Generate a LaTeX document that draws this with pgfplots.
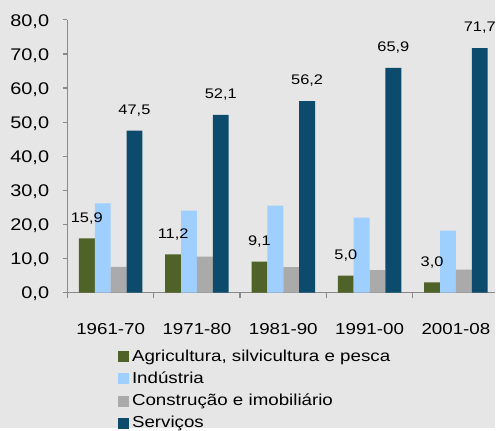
\documentclass[border=0pt]{standalone}
\usepackage{pgfplots}
\pgfplotsset{compat=1.18}
\usepackage{fontspec}
\setmainfont{Liberation Sans}[FakeStretch=1.18]

\definecolor{bgcol}{HTML}{E6E6E6}
\definecolor{axisgray}{HTML}{898989}
\definecolor{agri}{HTML}{4F6228}
\definecolor{indu}{HTML}{9FCFFF}
\definecolor{cons}{HTML}{AAAAAA}
\definecolor{serv}{HTML}{0D4B6C}

\begin{document}
\begin{tikzpicture}[x=1pt,y=1pt]
% background panel, 499 x 431
\fill[bgcol] (-68,-136) rectangle (431,295);
\begin{axis}[
    at={(0,0)}, anchor=south west,
    scale only axis, width=431pt, height=275pt,
    xmin=-0.5, xmax=4.454, ymin=0, ymax=80,
    ybar=0pt, bar width=16pt,
    axis x line*=bottom, axis y line*=left,
    axis line style={draw=axisgray, line width=1.3pt},
    tick align=outside, major tick length=5pt,
    xtick={0,1,2,3,4},
    xticklabels={1961-70,1971-80,1981-90,1991-00,2001-08},
    xtick style={draw=none},
    extra x ticks={-0.5,0.5,1.5,2.5,3.5},
    extra x tick labels={},
    extra x tick style={xtick style={draw=axisgray, line width=1.3pt}},
    ytick={0,10,...,80},
    ytick style={draw=axisgray, line width=1.3pt},
    xticklabel style={font=\fontsize{16}{19}\selectfont, yshift=-22pt},
    yticklabel style={font=\fontsize{17}{20}\selectfont, xshift=-10pt, yshift=-1.5pt},
    /pgf/number format/fixed,
    /pgf/number format/fixed zerofill,
    /pgf/number format/precision=1,
    /pgf/number format/use comma,
    /pgf/number format/assume math mode=true,
    legend style={at={(axis description cs:0.118,-0.207)}, anchor=north west,
        draw=none, fill=none, inner sep=0pt, row sep=7.3pt,
        font=\fontsize{16}{19}\selectfont,
        nodes={inner sep=0pt, text height=12pt, text depth=3pt},
        /tikz/every odd column/.append style={column sep=3pt}},
    legend cell align=left,
    every node near coord/.append style={font=\fontsize{14}{17}\selectfont, text=black, yshift=11pt},
]
% Agricultura, silvicultura e pesca
\addplot[fill=agri, draw=none, nodes near coords,
    legend image code/.code={\fill[agri] (0pt,-5.5pt) rectangle (11pt,5.5pt);}]
    coordinates {(0,15.9) (1,11.2) (2,9.1) (3,5.0) (4,3.0)};
% Industria
\addplot[fill=indu, draw=none,
    legend image code/.code={\fill[indu] (0pt,-5.5pt) rectangle (11pt,5.5pt);}]
    coordinates {(0,26.2) (1,24.1) (2,25.5) (3,22.0) (4,18.2)};
% Construcao e imobiliario
\addplot[fill=cons, draw=none,
    legend image code/.code={\fill[cons] (0pt,-5.5pt) rectangle (11pt,5.5pt);}]
    coordinates {(0,7.6) (1,10.6) (2,7.5) (3,6.6) (4,6.8)};
% Servicos
\addplot[fill=serv, draw=none, nodes near coords,
    legend image code/.code={\fill[serv] (0pt,-5.5pt) rectangle (11pt,5.5pt);}]
    coordinates {(0,47.5) (1,52.1) (2,56.2) (3,65.9) (4,71.7)};
\legend{{Agricultura, silvicultura e pesca}, Indústria, Construção e imobiliário, Serviços}
\end{axis}
\end{tikzpicture}
\end{document}
